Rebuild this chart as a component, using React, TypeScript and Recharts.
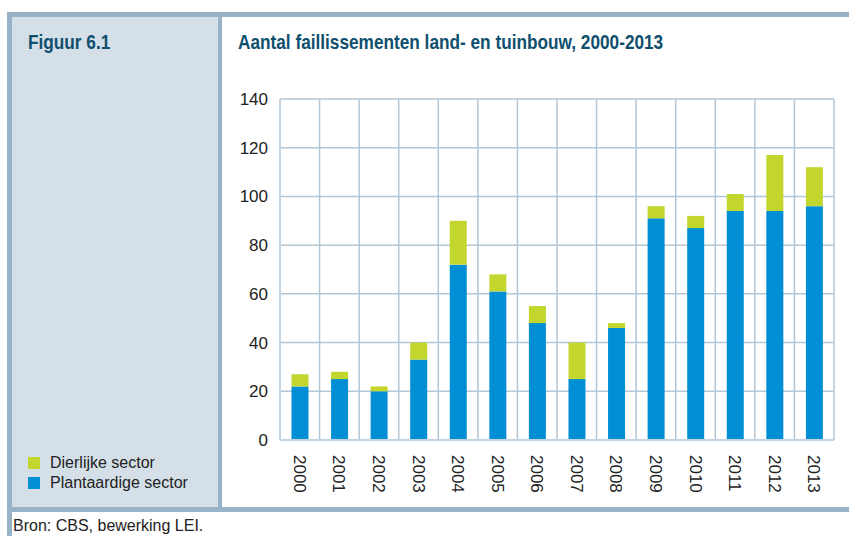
import React from 'react';
import { BarChart, Bar, XAxis, YAxis, CartesianGrid } from 'recharts';

const years = ['2000', '2001', '2002', '2003', '2004', '2005', '2006', '2007', '2008', '2009', '2010', '2011', '2012', '2013'];
const plantaardige = [22, 25, 20, 33, 72, 61, 48, 25, 46, 91, 87, 94, 94, 96];
const dierlijke = [5, 3, 2, 7, 18, 7, 7, 15, 2, 5, 5, 7, 23, 16];
const yTicks = [0, 20, 40, 60, 80, 100, 120, 140];
const seriesNames = ['Plantaardige sector', 'Dierlijke sector'];

const data = years.map((y, i) => ({ year: y, plant: plantaardige[i], dier: dierlijke[i] }));

const BORDER = '#98b3c8';
const PANEL = '#d4dfe8';
const GRID = '#b3c7d6';
const BLUE = '#008fd5';
const GREEN = '#c3d62e';
const TITLE = '#0f4f6e';
const FONT = 'Arial, "Liberation Sans", sans-serif';

const legendItems = [
  { name: seriesNames[1], color: GREEN },
  { name: seriesNames[0], color: BLUE },
];

const XTick = (props: any) => {
  const { x, y, payload } = props;
  return (
    <text
      x={x}
      y={y}
      transform={`rotate(90, ${x}, ${y})`}
      dx={7}
      dy={6}
      textAnchor="start"
      fontSize={17}
      fill="#222"
      fontFamily={FONT}
    >
      {payload.value}
    </text>
  );
};

export default function App() {
  return (
    <div style={{ position: 'absolute', left: 0, top: 0, width: 849, height: 536, background: '#fff', overflow: 'hidden' }}>
      <div style={{ position: 'absolute', left: 7, top: 12, width: 842, height: 5, background: BORDER }} />
      <div style={{ position: 'absolute', left: 7, top: 12, width: 5, height: 524, background: BORDER }} />
      <div style={{ position: 'absolute', left: 12, top: 17, width: 206, height: 490, background: PANEL }} />
      <div style={{ position: 'absolute', left: 218, top: 17, width: 4, height: 490, background: BORDER }} />
      <div style={{ position: 'absolute', left: 7, top: 507, width: 842, height: 5, background: BORDER }} />
      <div
        style={{
          position: 'absolute', left: 28, top: 30.7, fontFamily: FONT, fontWeight: 'bold', fontSize: 21,
          lineHeight: '21px', color: TITLE, transform: 'scaleX(0.82)', transformOrigin: 'left top', whiteSpace: 'nowrap',
        }}
      >
        Figuur 6.1
      </div>
      <div
        style={{
          position: 'absolute', left: 238, top: 30.7, fontFamily: FONT, fontWeight: 'bold', fontSize: 21,
          lineHeight: '21px', color: TITLE, transform: 'scaleX(0.82)', transformOrigin: 'left top', whiteSpace: 'nowrap',
        }}
      >
        Aantal faillissementen land- en tuinbouw, 2000-2013
      </div>
      <div style={{ position: 'absolute', left: 28, top: 453, fontFamily: FONT, fontSize: 16, color: '#222' }}>
        {legendItems.map((it) => (
          <div key={it.name} style={{ display: 'flex', alignItems: 'center', height: 20, whiteSpace: 'nowrap' }}>
            <span style={{ display: 'inline-block', width: 12, height: 12, background: it.color, marginRight: 10 }} />
            <span>{it.name}</span>
          </div>
        ))}
      </div>
      <div
        style={{
          position: 'absolute', left: 13, top: 518, fontFamily: FONT, fontSize: 16, lineHeight: '16px', color: '#222', whiteSpace: 'nowrap',
        }}
      >
        Bron: CBS, bewerking LEI.
      </div>
      <div style={{ position: 'absolute', left: 0, top: 0 }}>
        <BarChart
          width={849}
          height={536}
          data={data}
          margin={{ top: 99, right: 15, bottom: 36, left: 220 }}
          barCategoryGap="29%"
        >
          <CartesianGrid
            stroke={GRID}
            strokeWidth={1.5}
            vertical={true}
            horizontal={true}
            verticalCoordinatesGenerator={({ offset }: any) =>
              years.map((_, i) => offset.left + (i * offset.width) / years.length).concat([offset.left + offset.width])
            }
          />
          <XAxis
            dataKey="year"
            height={60}
            tickLine={false}
            axisLine={{ stroke: '#c3d3df', strokeWidth: 2 }}
            tick={<XTick />}
            interval={0}
          />
          <YAxis
            width={60}
            domain={[0, 140]}
            ticks={yTicks}
            tickLine={false}
            tickSize={0}
            tickMargin={12}
            axisLine={{ stroke: '#c3d3df', strokeWidth: 2 }}
            tick={{ fontSize: 17, fill: '#222', fontFamily: FONT }}
            interval={0}
          />
          <Bar dataKey="plant" name={seriesNames[0]} stackId="a" fill={BLUE} isAnimationActive={false} />
          <Bar dataKey="dier" name={seriesNames[1]} stackId="a" fill={GREEN} isAnimationActive={false} />
        </BarChart>
      </div>
    </div>
  );
}
